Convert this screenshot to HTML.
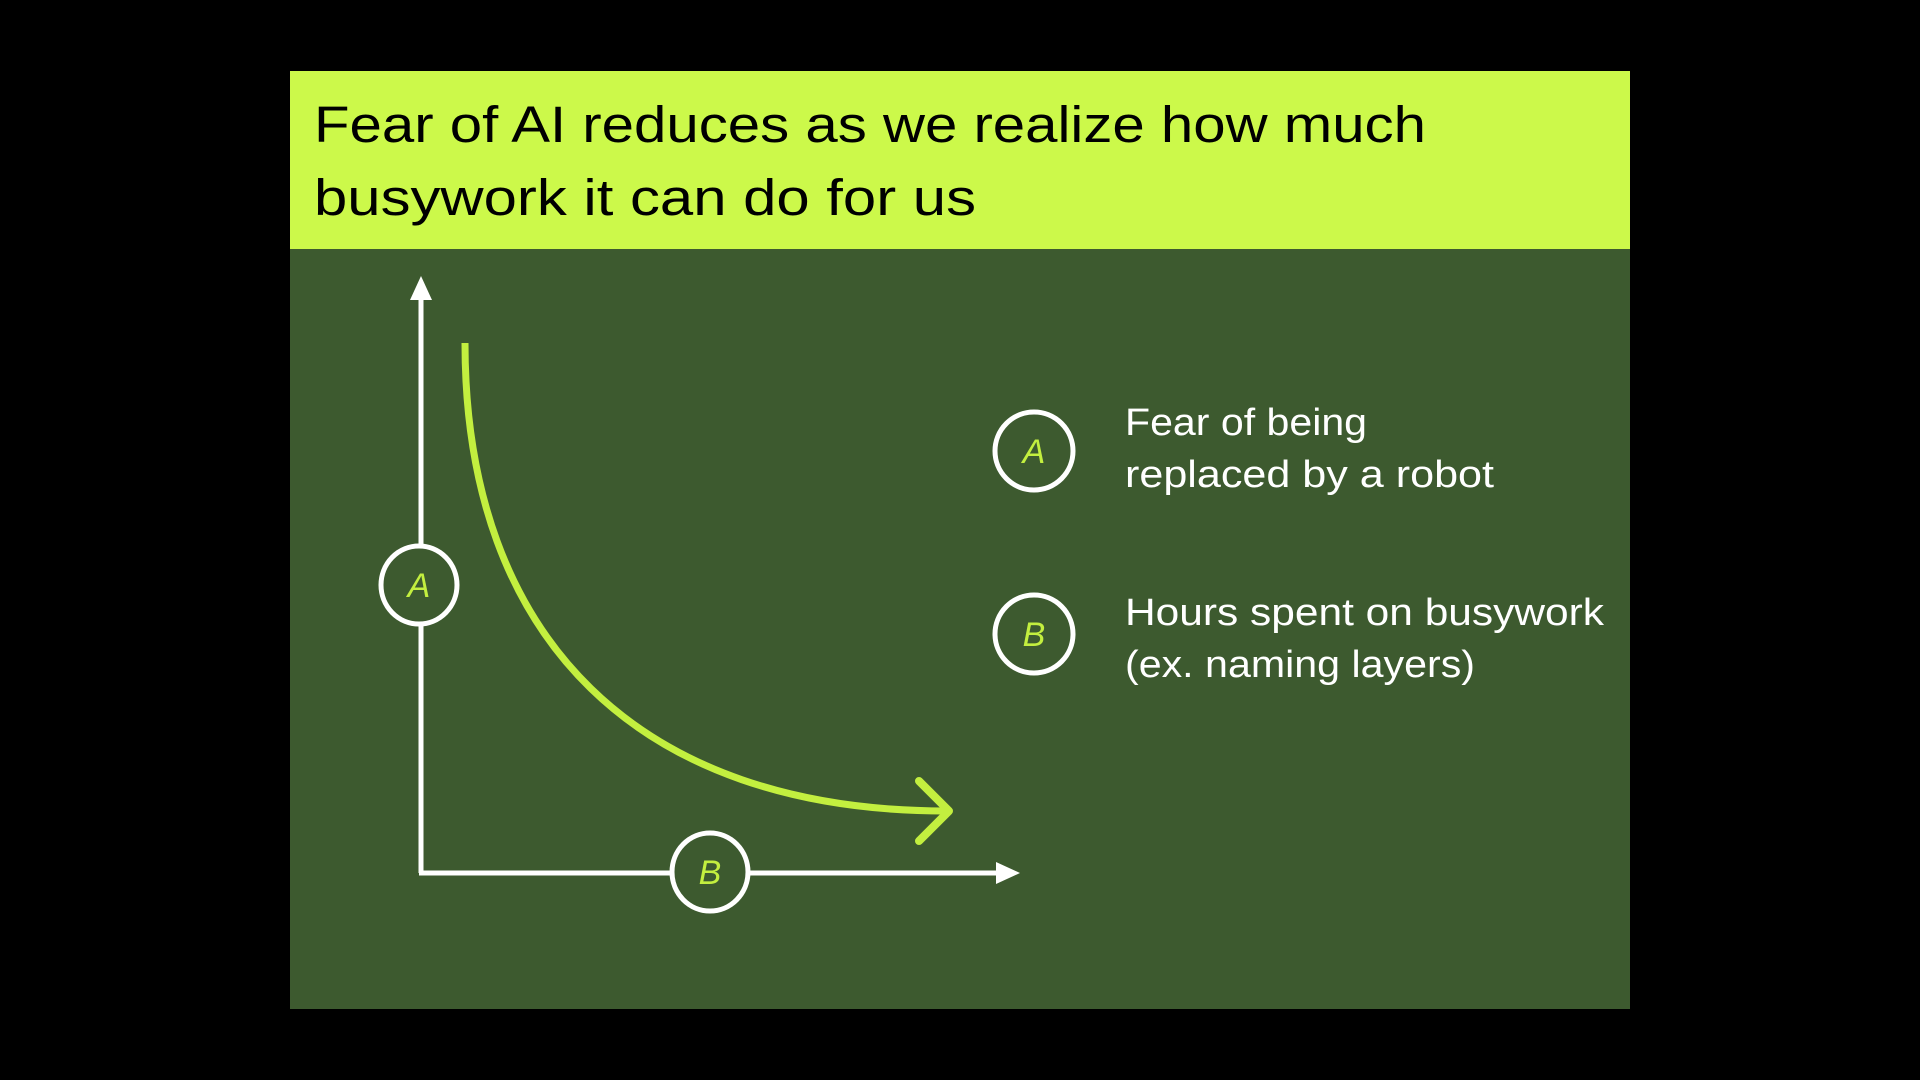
<!DOCTYPE html>
<html><head><meta charset="utf-8"><style>
html,body{margin:0;padding:0;background:#000;width:1920px;height:1080px;overflow:hidden}
</style></head><body>
<svg width="1920" height="1080" viewBox="0 0 1920 1080" xmlns="http://www.w3.org/2000/svg">
<rect x="0" y="0" width="1920" height="1080" fill="#000"/>
<rect x="290" y="71" width="1340" height="938" fill="#3d5a2f"/>
<rect x="290" y="71" width="1340" height="178" fill="#ccf94a"/>
<g font-family="Liberation Sans, sans-serif" font-size="51" fill="#000">
<text x="314" y="142" textLength="1112" lengthAdjust="spacingAndGlyphs">Fear of AI reduces as we realize how much</text>
<text x="314" y="215" textLength="662" lengthAdjust="spacingAndGlyphs">busywork it can do for us</text>
</g>
<g stroke="#fff" stroke-width="5" fill="none">
<line x1="421" y1="295" x2="421" y2="873"/>
<line x1="419" y1="873" x2="1000" y2="873"/>
</g>
<polygon points="421,276 410,300 432,300" fill="#fff"/>
<polygon points="1020,873 996,862 996,884" fill="#fff"/>
<path d="M465,343 C465,640 640,811 946,811" stroke="#c3ef3f" stroke-width="7" fill="none"/>
<polyline points="919,781 949,811 919,841" stroke="#c3ef3f" stroke-width="8" fill="none" stroke-linecap="round" stroke-linejoin="round"/>
<g stroke="#fff" stroke-width="5" fill="#3d5a2f">
<ellipse cx="419" cy="585" rx="38" ry="39"/>
<ellipse cx="710" cy="872" rx="38" ry="39"/>
<circle cx="1034" cy="451" r="39"/>
<circle cx="1034" cy="634" r="39"/>
</g>
<g font-family="Liberation Sans, sans-serif" font-style="italic" font-size="34" fill="#c3ef3f" text-anchor="middle">
<text x="419" y="597">A</text>
<text x="710" y="884">B</text>
<text x="1034" y="463">A</text>
<text x="1034" y="646">B</text>
</g>
<g font-family="Liberation Sans, sans-serif" font-size="38" fill="#fff">
<text x="1125" y="435" textLength="242" lengthAdjust="spacingAndGlyphs">Fear of being</text>
<text x="1125" y="487" textLength="369" lengthAdjust="spacingAndGlyphs">replaced by a robot</text>
<text x="1125" y="625" textLength="479" lengthAdjust="spacingAndGlyphs">Hours spent on busywork</text>
<text x="1125" y="677" textLength="350" lengthAdjust="spacingAndGlyphs">(ex. naming layers)</text>
</g>
</svg>
</body></html>
